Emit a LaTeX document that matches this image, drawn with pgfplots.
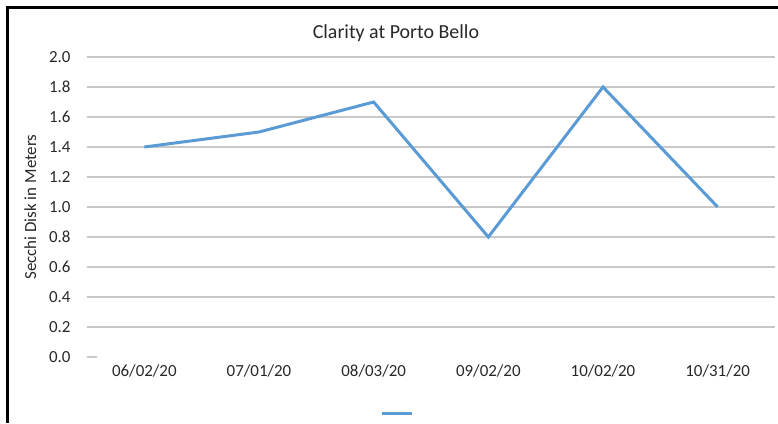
\documentclass[border=0pt]{standalone}
\usepackage{pgfplots}
\pgfplotsset{compat=1.18}
\usepackage{fontspec}
\setmainfont{Carlito}
\definecolor{serieblue}{RGB}{91,155,213}
\definecolor{gridgray}{RGB}{200,200,200}
\definecolor{textgray}{RGB}{40,40,40}
\begin{document}
\begin{tikzpicture}[x=1bp,y=1bp]
\path[use as bounding box] (0,0) rectangle (778,423);
% chart frame (cut at right and bottom)
\draw[black,line width=3bp] (7,0) -- (7,415.5) -- (778,415.5);
\begin{axis}[
  at={(87bp,66bp)}, anchor=south west,
  scale only axis, width=688bp, height=300bp,
  xmin=-0.5, xmax=5.5, ymin=0, ymax=2,
  xtick={0,...,5},
  xticklabels={06/02/20,07/01/20,08/03/20,09/02/20,10/02/20,10/31/20},
  ytick={0.2,0.4,...,2.0},
  extra y ticks={0}, extra y tick style={grid=none},
  yticklabel style={/pgf/number format/fixed,/pgf/number format/fixed zerofill,/pgf/number format/precision=1},
  /pgf/number format/assume math mode=true,
  ymajorgrids, grid style={gridgray,line width=1.2bp},
  axis line style={draw=none}, major tick length=0pt,
  tick label style={font=\fontsize{17}{19}\selectfont, text=textgray},
  yticklabel style={xshift=-13bp},
  xticklabel style={yshift=-4bp},
  title={Clarity at Porto Bello},
  title style={font=\fontsize{20}{22}\selectfont, text=textgray, at={(0.449,1)}, yshift=6bp},
  ylabel={Secchi Disk in Meters},
  ylabel style={font=\fontsize{17}{19}\selectfont, text=textgray, at={(ticklabel cs:0.5)}, yshift=6bp},
  legend style={at={(0.452,-0.187)}, anchor=center, draw=none, fill=none, inner sep=0pt, nodes={inner sep=0pt}},
  legend image code/.code={\draw[#1] (0,0) -- (30bp,0);},
  clip=false,
]
\addplot[serieblue, line width=3bp, line join=miter] coordinates {
  (0,1.4) (1,1.5) (2,1.7) (3,0.8) (4,1.8) (5,1.0)
};
\addlegendentry{}
% short stub of the base line at zero
\draw[gridgray,line width=1.2bp] (axis cs:-0.5,0) -- (axis cs:-0.41,0);
\end{axis}
\end{tikzpicture}
\end{document}
